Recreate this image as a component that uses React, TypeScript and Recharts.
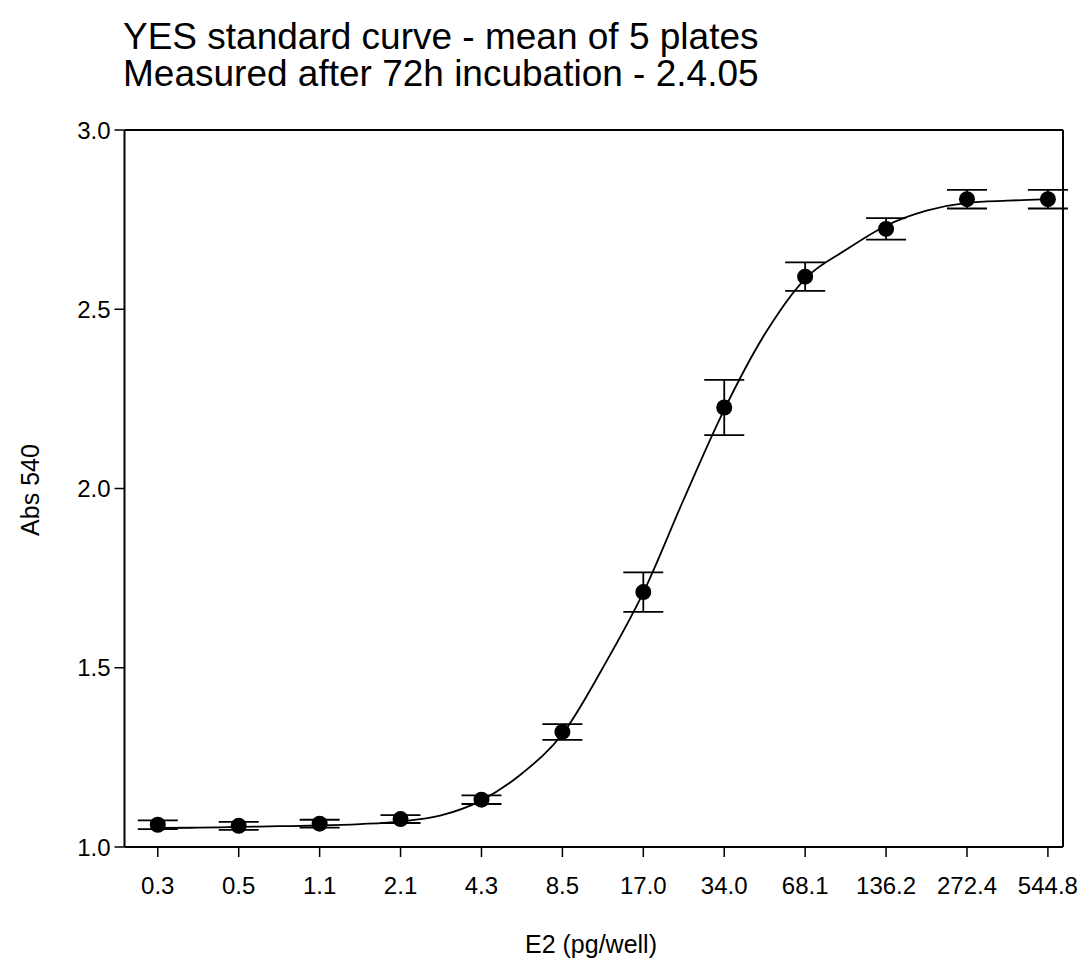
import React from 'react';
import { ComposedChart, Line, Scatter, XAxis, YAxis, ErrorBar, ReferenceLine } from 'recharts';

const concentrations = [0.266, 0.532, 1.064, 2.128, 4.256, 8.5125, 17.025, 34.05, 68.1, 136.2, 272.4, 544.8];
const tickLabels = ['0.3', '0.5', '1.1', '2.1', '4.3', '8.5', '17.0', '34.0', '68.1', '136.2', '272.4', '544.8'];
const meanAbs = [1.062, 1.059, 1.065, 1.078, 1.132, 1.321, 1.711, 2.226, 2.591, 2.724, 2.807, 2.807];
const errAbs = [0.012, 0.011, 0.011, 0.011, 0.012, 0.022, 0.055, 0.077, 0.04, 0.03, 0.026, 0.026];

const curveX = [0.266, 0.376, 0.532, 0.752, 1.064, 1.505, 2.128, 3.009, 4.256, 6.019, 8.513, 12.04, 17.03, 24.08, 34.05, 48.15, 68.1, 96.31, 136.2, 192.6, 272.4, 385.2, 544.8];
const curveY = [1.053, 1.054, 1.056, 1.058, 1.06, 1.064, 1.071, 1.088, 1.13, 1.205, 1.315, 1.5, 1.71, 1.97, 2.22, 2.43, 2.585, 2.665, 2.733, 2.775, 2.797, 2.803, 2.807];

const yTicks = [1.0, 1.5, 2.0, 2.5, 3.0];

const points = concentrations.map((x, i) => ({ x, y: meanAbs[i], err: errAbs[i] }));
const curve = curveX.map((x, i) => ({ x, y: curveY[i] }));

const font = '"Liberation Sans", Arial, sans-serif';

const Dot = (props: any) => {
  const { cx, cy } = props;
  return <circle cx={cx} cy={cy} r={8} fill="#000" />;
};

export default function App() {
  const labelMap: Record<string, string> = {};
  concentrations.forEach((c, i) => (labelMap[String(c)] = tickLabels[i]));
  return (
    <div style={{ position: 'relative', width: 1077, height: 952, fontFamily: font, background: '#fff' }}>
      <div style={{ position: 'absolute', left: 115, top: 10, fontSize: 37, lineHeight: '37px', color: '#000', whiteSpace: 'nowrap' }}>
        <div>YES standard curve - mean of 5 plates</div>
        <div>Measured after 72h incubation - 2.4.05</div>
      </div>
      <ComposedChart width={1077} height={950} margin={{ top: 122, right: 22, bottom: 51, left: 0 }} style={{ position: 'absolute', left: 0, top: 0 }}>
        <XAxis
          dataKey="x"
          type="number"
          scale="log"
          domain={[0.2, 620]}
          ticks={concentrations}
          allowDataOverflow
          tickFormatter={(v: number) => labelMap[String(v)] ?? String(v)}
          tick={{ fill: '#000', fontSize: 24, fontFamily: font }}
          tickSize={10}
          tickMargin={20}
          axisLine={{ stroke: '#000', strokeWidth: 2 }}
          tickLine={{ stroke: '#000', strokeWidth: 1.5 }}
          interval={0}
          height={60}
        />
        <YAxis
          dataKey="y"
          type="number"
          domain={[1, 3]}
          ticks={yTicks}
          tickFormatter={(v: number) => v.toFixed(1)}
          tick={{ fill: '#000', fontSize: 24, fontFamily: font }}
          tickSize={10}
          tickMargin={4}
          width={116.5}
          axisLine={{ stroke: '#000', strokeWidth: 2 }}
          tickLine={{ stroke: '#000', strokeWidth: 1.5 }}
          interval={0}
        />
        <ReferenceLine y={3} stroke="#000" strokeWidth={2} />
        <ReferenceLine x={620} stroke="#000" strokeWidth={2} />
        <Line data={curve} dataKey="y" type="monotone" stroke="#000" strokeWidth={1.8} dot={false} isAnimationActive={false} />
        <Scatter data={points} dataKey="y" fill="#000" shape={<Dot />} isAnimationActive={false}>
          <ErrorBar dataKey="err" direction="y" width={20} stroke="#000" strokeWidth={1.8} />
        </Scatter>
      </ComposedChart>
      <div style={{ position: 'absolute', left: 583, top: 922, transform: 'translateX(-50%)', fontSize: 25, whiteSpace: 'nowrap' }}>E2 (pg/well)</div>
      <div style={{ position: 'absolute', left: 22, top: 482, transform: 'translate(-50%, -50%) rotate(-90deg)', fontSize: 25, whiteSpace: 'nowrap' }}>Abs 540</div>
    </div>
  );
}
